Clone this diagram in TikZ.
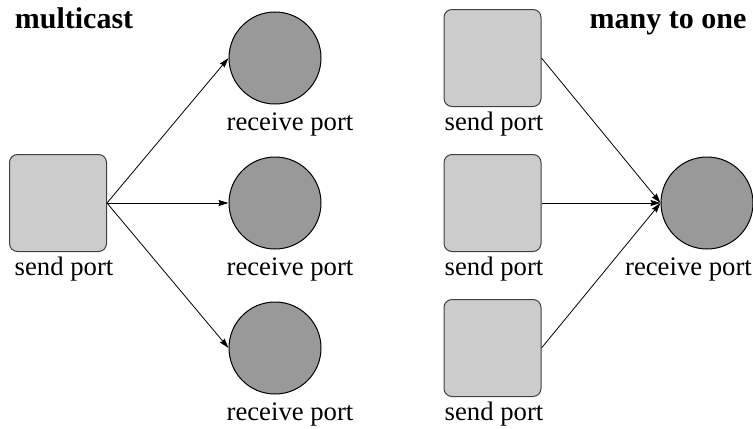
\documentclass[tikz,border=0pt]{standalone}
\usepackage{fontspec}
\setmainfont{Liberation Serif}
\usetikzlibrary{arrows.meta}

\begin{document}
\begin{tikzpicture}[x=0.5pt,y=-0.5pt]
\useasboundingbox (0,0) rectangle (753,428);

\begin{scope}[every node/.style={font=\rmfamily\bfseries\fontsize{15pt}{17pt}\selectfont,anchor=base}]
    \node (t1) at (74 ,28)  {multicast};
    \node (t2) at (668,28)  {many to one};
\end{scope}

% send ports
\begin{scope}[every node/.style={rectangle,rounded corners=4pt,draw=black!75,fill=black!20,
              line width=0.5pt,minimum width=48.5pt,minimum height=48.5pt,inner sep=0pt}]
    \node (1) at (58   ,203)  {};
    \node (5) at (492.5,58 )  {};
    \node (6) at (492.5,203)  {};
    \node (7) at (492.5,348)  {};
\end{scope}

% receive ports
\begin{scope}[every node/.style={circle,draw,fill=black!40,line width=0.5pt,
              minimum size=46pt,inner sep=0pt}]
    \node (2) at (275,58 )  {};
    \node (3) at (275,203)  {};
    \node (4) at (275,348)  {};
    \node (8) at (707,203)  {};
\end{scope}

\begin{scope}[every node/.style={font=\rmfamily\fontsize{13.35pt}{15pt}\selectfont,anchor=base}]
    \node (l1) at (64   ,275)  {send port};
    \node (l2) at (290  ,130)  {receive port};
    \node (l3) at (290  ,275)  {receive port};
    \node (l4) at (290  ,420)  {receive port};
    \node (l5) at (494  ,130)  {send port};
    \node (l6) at (494  ,275)  {send port};
    \node (l7) at (494  ,420)  {send port};
    \node (l8) at (688.5,275)  {receive port};
\end{scope}

\begin{scope}[>={Stealth[length=5pt,width=3pt,inset=0.6pt]},
              every edge/.style={draw,line width=0.4pt}]
    \path [->] (1.east) edge (2.west);
    \path [->] (1.east) edge (3.west);
    \path [->] (1.east) edge (4.west);

    \path [->] (5.east) edge (8.west);
    \path [->] (6.east) edge (8.west);
    \path [->] (7.east) edge (8.west);
\end{scope}
\end{tikzpicture}
\end{document}
